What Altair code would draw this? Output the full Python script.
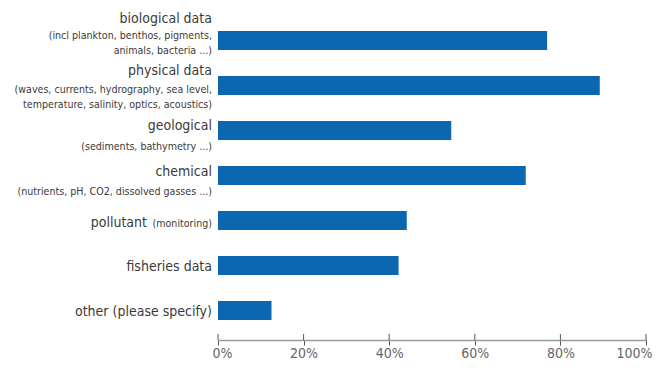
import altair as alt
import pandas as pd

# ---- data ----
categories = [
    "biological data",
    "physical data",
    "geological",
    "chemical",
    "pollutant",
    "fisheries data",
    "other (please specify)",
]
values = [76.9, 89.2, 54.5, 71.9, 44.1, 42.2, 12.5]

main_text = [
    "biological data",
    "physical data",
    "geological",
    "chemical",
    "pollutant",
    "fisheries data",
    "other (please specify)",
]
sub_text = [
    ["(incl plankton, benthos, pigments,", "animals, bacteria ...)"],
    ["(waves, currents, hydrography, sea level,", "temperature, salinity, optics, acoustics)"],
    ["(sediments, bathymetry ...)"],
    ["(nutrients, pH, CO2, dissolved gasses ...)"],
    [],
    [],
    [],
]
inline_sub = ["", "", "", "", "(monitoring)", "", ""]
tick_values = [0, 20, 40, 60, 80, 100]

# ---- styling / layout ----
FONT = "DejaVu Sans Condensed, Liberation Sans Narrow, Roboto, sans-serif"
BAR = "#0b67b0"
TXT = "#3a3a3a"
W, H = 428, 315
MAIN_SIZE = 14
SUB_SIZE = 10.6
# vertical offsets (px) of label lines relative to bar centre: main, sub1, sub2
label_dy = [
    [-22, -5, 10],
    [-15, 4, 19],
    [-5, 16],
    [-4, 16],
    [1],
    [1],
    [1],
]
LABEL_X = -6
INLINE_W = 61
INLINE_GAP = 4
AXIS_OFFSET = 7

df = pd.DataFrame({"cat": categories, "value": values})

rows = []
for i, c in enumerate(categories):
    rows.append({"cat": c, "key": f"{i}-0", "text": main_text[i]})
    for j, s in enumerate(sub_text[i]):
        rows.append({"cat": c, "key": f"{i}-{j+1}", "text": s})
    if inline_sub[i]:
        rows.append({"cat": c, "key": f"{i}-in", "text": inline_sub[i]})
labels = pd.DataFrame(rows)

xscale = alt.Scale(domain=[0, 100], nice=False)
yscale = alt.Scale(domain=categories, paddingInner=0.578, paddingOuter=0.289)
y_enc = alt.Y("cat:N", scale=yscale, axis=None, sort=categories)

bars = alt.Chart(df).mark_bar(color=BAR).encode(
    x=alt.X(
        "value:Q",
        scale=xscale,
        axis=alt.Axis(
            values=tick_values,
            labelExpr="datum.value + '%'",
            title=None,
            grid=False,
            offset=AXIS_OFFSET,
            domainColor="#9a9a9a",
            domainWidth=1.5,
            tickColor="#555555",
            tickSize=5,
            tickWidth=1,
            labelPadding=1,
            labelFont=FONT,
            labelFontSize=14,
            labelColor="#666666",
            labelFlush=True,
            labelFlushOffset=6,
        ),
    ),
    y=y_enc,
)

ticks_df = pd.DataFrame({"t": tick_values})
upper_ticks = alt.Chart(ticks_df).mark_rule(color="#555555", strokeWidth=1).encode(
    x=alt.X("t:Q", scale=xscale),
    y=alt.value(H + 1),
    y2=alt.value(H + AXIS_OFFSET),
)

layers = [bars, upper_ticks]
for i, c in enumerate(categories):
    dys = label_dy[i]
    n_lines = 1 + len(sub_text[i])
    for j in range(n_lines):
        key = f"{i}-{j}"
        is_main = j == 0
        if is_main and inline_sub[i]:
            layers.append(
                alt.Chart(labels).transform_filter(alt.datum.key == f"{i}-in").mark_text(
                    align="right", baseline="alphabetic", font=FONT,
                    fontSize=SUB_SIZE, color=TXT, dy=dys[0] + 5,
                ).encode(x=alt.value(LABEL_X), y=y_enc, text="text:N")
            )
            layers.append(
                alt.Chart(labels).transform_filter(alt.datum.key == key).mark_text(
                    align="right", baseline="alphabetic", font=FONT,
                    fontSize=MAIN_SIZE, color=TXT, dy=dys[0] + 5,
                ).encode(x=alt.value(LABEL_X - INLINE_W - INLINE_GAP), y=y_enc, text="text:N")
            )
            continue
        layers.append(
            alt.Chart(labels).transform_filter(alt.datum.key == key).mark_text(
                align="right", baseline="middle", font=FONT,
                fontSize=MAIN_SIZE if is_main else SUB_SIZE, color=TXT, dy=dys[j],
            ).encode(x=alt.value(LABEL_X), y=y_enc, text="text:N")
        )

chart = (
    alt.layer(*layers)
    .properties(
        width=W,
        height=H,
        autosize=alt.AutoSizeParams(type="none"),
        padding={"left": 210, "top": 10, "right": 8, "bottom": 26},
    )
    .configure_view(stroke=None)
)

chart.save("out.html", embed_options={"renderer": "svg", "actions": False})
